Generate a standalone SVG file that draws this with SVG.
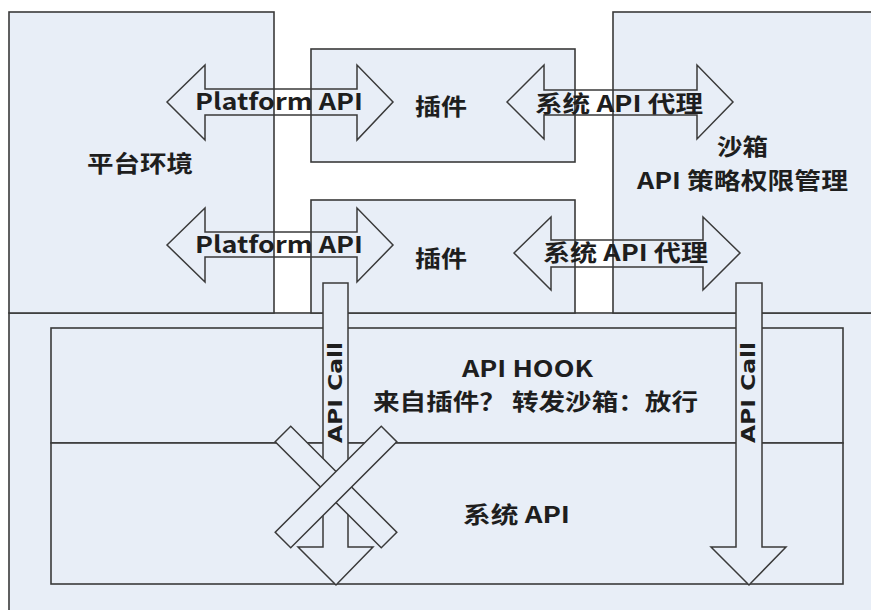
<svg xmlns="http://www.w3.org/2000/svg" width="871" height="610" viewBox="0 0 871 610">
<style>
.box{fill:#e8eef7;stroke:#3a3a3a;stroke-width:1.6}
.arr{fill:none;stroke:#3a3a3a;stroke-width:1.5}
.arrf{fill:#e8eef7;stroke:#3a3a3a;stroke-width:1.5}
.ln{stroke:#3a3a3a;stroke-width:1.6;fill:none}
.t{font-family:"Noto Sans CJK SC","Noto Sans",sans-serif;font-weight:bold;font-size:23px;fill:#1e1e1e;text-anchor:middle;dominant-baseline:central}
.v{font-family:"DejaVu Sans","Noto Sans",sans-serif;font-weight:bold;font-size:19px;fill:#1e1e1e;text-anchor:middle;dominant-baseline:central}
</style>
<rect x="0" y="0" width="871" height="610" fill="#ffffff"/>
<g id="system-layer">
<rect class="box" x="9" y="313" width="880" height="320"/>
</g>
<g id="platform-env">
<rect class="box" x="9" y="12" width="265" height="301"/>
<text class="t" x="140" y="161.5" textLength="106" lengthAdjust="spacingAndGlyphs">平台环境</text>
</g>
<g id="sandbox">
<rect class="box" x="613" y="12" width="280" height="301"/>
<text class="t" x="742.5" y="145" textLength="51" lengthAdjust="spacingAndGlyphs">沙箱</text>
<text class="t" x="742.5" y="178.5" textLength="211" lengthAdjust="spacingAndGlyphs">API 策略权限管理</text>
</g>
<g id="plugin-1">
<rect class="box" x="311" y="49" width="264" height="113"/>
<text class="t" x="441" y="105" textLength="52" lengthAdjust="spacingAndGlyphs">插件</text>
</g>
<g id="plugin-2">
<rect class="box" x="311" y="200" width="264" height="113"/>
<text class="t" x="441" y="256.5" textLength="52" lengthAdjust="spacingAndGlyphs">插件</text>
</g>
<g id="api-hook">
<rect class="box" x="51" y="328" width="792" height="115"/>
<text class="t" x="527.5" y="366.5" textLength="131" lengthAdjust="spacingAndGlyphs">API HOOK</text>
<text class="t" x="535.5" y="400" textLength="325" lengthAdjust="spacingAndGlyphs">来自插件？ 转发沙箱：放行</text>
</g>
<g id="system-api">
<rect class="box" x="51" y="443" width="792" height="141"/>
<text class="t" x="516.5" y="512.5" textLength="107" lengthAdjust="spacingAndGlyphs">系统 API</text>
</g>
<g id="connectors">
<path class="arr" d="M167,102 L205,65 L205,89 L357,89 L357,65 L393,102 L357,140 L357,115 L205,115 L205,140 Z"/>
<path class="arr" d="M167,245 L205,208 L205,232 L357,232 L357,208 L393,245 L357,282 L357,257 L205,257 L205,282 Z"/>
<path class="arr" d="M507,102 L544,65 L544,90 L697,90 L697,65 L733,102 L697,139 L697,115 L544,115 L544,139 Z"/>
<path class="arr" d="M514,253 L551,217 L551,240 L703,240 L703,217 L740,253 L703,290 L703,267 L551,267 L551,290 Z"/>
<text class="t" x="279" y="100" textLength="168" lengthAdjust="spacingAndGlyphs">Platform API</text>
<text class="t" x="279" y="242.5" textLength="168" lengthAdjust="spacingAndGlyphs">Platform API</text>
<text class="t" x="619" y="102" textLength="168" lengthAdjust="spacingAndGlyphs">系统 API 代理</text>
<text class="t" x="625.5" y="251" textLength="165" lengthAdjust="spacingAndGlyphs">系统 API 代理</text>
<path class="arrf" d="M323,283 L348,283 L348,547 L373,547 L336,585 L298,547 L323,547 Z"/>
<path class="arrf" d="M736,283 L762,283 L762,547 L786,547 L749,585 L711,547 L736,547 Z"/>
<text class="v" transform="translate(335,392.5) rotate(-90)" textLength="101" lengthAdjust="spacingAndGlyphs">API Call</text>
<text class="v" transform="translate(748,392.5) rotate(-90)" textLength="101" lengthAdjust="spacingAndGlyphs">API Call</text>
<g id="blocked-cross">
<rect class="arrf" x="-75" y="-11" width="150" height="22" transform="translate(336,487) rotate(45)"/>
<rect class="arrf" x="-75" y="-11" width="150" height="22" transform="translate(336,487) rotate(-45)"/>
</g>
</g>
</svg>
